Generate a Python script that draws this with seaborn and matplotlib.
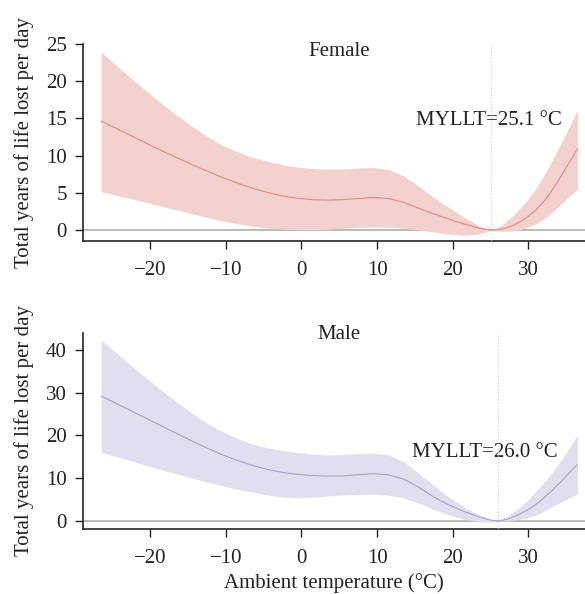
import numpy as np
import pandas as pd
import matplotlib
matplotlib.use("Agg")
import matplotlib.pyplot as plt
import seaborn as sns

# ---------------- data ----------------
fem_temp = [-26.5, -24.5, -22.5, -20.5, -18.5, -16.5, -14.5, -12.5, -10.5, -8.5, -6.5, -4.5,
            -2.5, -0.5, 1.5, 3.5, 5.5, 7.5, 9.5, 11.5, 13.5, 15.5, 17.5, 19.5, 21.5, 23.5,
            25.1, 26.5, 28.0, 29.5, 31.0, 32.5, 34.0, 35.5, 36.5]
fem_est = [14.65, 13.65, 12.65, 11.65, 10.68, 9.74, 8.82, 7.94, 7.1, 6.33, 5.65, 5.07,
           4.6, 4.28, 4.1, 4.05, 4.12, 4.26, 4.4, 4.27, 3.75, 2.95, 2.2, 1.5, 0.85, 0.3,
           0.0, 0.15, 0.65, 1.5, 2.7, 4.4, 6.7, 9.2, 10.9]
fem_lo = [5.17, 4.7, 4.22, 3.72, 3.22, 2.72, 2.22, 1.74, 1.28, 0.88, 0.56, 0.32,
          0.16, 0.08, 0.08, 0.15, 0.27, 0.4, 0.45, 0.42, 0.28, 0.05, -0.22, -0.5, -0.66, -0.5,
          0.0, -0.15, -0.08, 0.25, 0.85, 1.8, 3.2, 4.6, 5.5]
fem_hi = [23.9, 22.1, 20.35, 18.65, 17.0, 15.45, 13.95, 12.6, 11.4, 10.5, 9.8, 9.25,
          8.8, 8.45, 8.28, 8.2, 8.22, 8.35, 8.4, 8.15, 7.3, 5.9, 4.4, 3.05, 1.75, 0.6,
          0.0, 0.7, 2.0, 3.6, 5.6, 8.1, 11.0, 14.0, 16.1]

male_temp = [-26.5, -24.5, -22.5, -20.5, -18.5, -16.5, -14.5, -12.5, -10.5, -8.5, -6.5, -4.5,
             -2.5, -0.5, 1.5, 3.5, 5.5, 7.5, 9.5, 11.5, 13.5, 15.5, 17.5, 19.5, 21.5, 23.5,
             25.0, 26.0, 27.2, 28.5, 30.0, 31.5, 33.0, 34.5, 35.5, 36.5]
male_est = [29.2, 27.45, 25.7, 23.95, 22.2, 20.45, 18.7, 17.05, 15.5, 14.15, 13.0, 12.05,
            11.35, 10.9, 10.6, 10.48, 10.55, 10.8, 11.05, 10.8, 9.8, 7.9, 5.6, 3.75, 2.2, 0.95,
            0.2, 0.0, 0.4, 1.3, 2.7, 4.5, 6.9, 9.5, 11.4, 13.2]
male_lo = [16.0, 15.0, 14.0, 12.95, 11.95, 11.0, 10.05, 9.1, 8.25, 7.45, 6.75, 6.1,
           5.6, 5.4, 5.55, 5.85, 6.05, 6.2, 6.25, 6.05, 5.4, 4.2, 2.7, 1.4, 0.4, -0.15,
           -0.3, 0.0, 0.05, 0.3, 0.85, 1.7, 3.2, 4.6, 5.5, 6.3]
male_hi = [42.3, 39.3, 36.3, 33.4, 30.5, 27.8, 25.2, 22.9, 20.9, 19.3, 18.0, 17.1,
           16.5, 16.0, 15.6, 15.4, 15.5, 15.75, 15.85, 15.45, 13.9, 11.2, 8.3, 5.6, 3.3, 1.4,
           0.35, 0.0, 1.2, 2.7, 5.0, 7.9, 11.0, 14.6, 17.3, 20.1]

mmt_female = 25.1
mmt_male = 26.0
x_ticks = [-20, -10, 0, 10, 20, 30]
fem_yticks = [0, 5, 10, 15, 20, 25]
male_yticks = [0, 10, 20, 30, 40]

# ---------------- style ----------------
sns.set_style("ticks")
plt.rcParams['font.family'] = ['Liberation Serif', 'DejaVu Serif']
plt.rcParams['axes.unicode_minus'] = True

FS = 15
TXT = '#222222'

fig = plt.figure(figsize=(5.85, 5.94), dpi=100)
fig.patch.set_facecolor('white')

left, right = 83 / 585, 1.0
ax1 = fig.add_axes([left, 1 - 241 / 594, right - left, (241 - 43.7) / 594])
ax2 = fig.add_axes([left, 1 - 529 / 594, right - left, (529 - 332.7) / 594])

panels = [
    (ax1, fem_temp, fem_est, fem_lo, fem_hi, mmt_female, '#f2d1cf', '#e58a80',
     'Female', (-1.43, 25), fem_yticks, 23.9, 14.7, 24.8),
    (ax2, male_temp, male_est, male_lo, male_hi, mmt_male, '#e0dfee', '#a6a3d4',
     'Male', (-1.87, 44.0), male_yticks, 43.5, 16.0, 24.2),
]

for ax, t, est, lo, hi, mmt, fill_c, line_c, title, ylim, yt, ty, my, mx in panels:
    df = pd.DataFrame({'temp': t, 'est': est, 'lo': lo, 'hi': hi})
    ax.axhline(0, color='#a8a8a8', lw=1.1, zorder=1)
    ax.fill_between(df['temp'], df['lo'], df['hi'], color=fill_c, lw=0, zorder=2)
    sns.lineplot(data=df, x='temp', y='est', ax=ax, color=line_c, lw=0.8, zorder=3)
    ax.axvline(mmt, color='#d0d0d0', ls=':', lw=0.9, zorder=4)
    ax.set_xlim(-28.9, 37.5)
    ax.set_ylim(*ylim)
    ax.set_xticks(x_ticks)
    ax.set_yticks(yt)
    ax.set_xlabel('')
    ax.set_ylabel('')
    sns.despine(ax=ax)
    for s in ['left', 'bottom']:
        ax.spines[s].set_color('#222222')
        ax.spines[s].set_linewidth(1.2)
    ax.tick_params(axis='both', labelsize=FS, colors=TXT, length=5.7, width=1.0, pad=6)
    ax.tick_params(axis='x', pad=9)
    ax.text(5.0, ty, title, ha='center', va='center', fontsize=FS, color=TXT)
    ax.text(mx, my, f'MYLLT={mmt:.1f} °C', ha='center', va='center', fontsize=FS, color=TXT)
    ax.set_facecolor('white')

fig.text(24 / 585, 1 - 142 / 594, 'Total years of life lost per day', rotation=90,
         ha='center', va='center', fontsize=FS, color=TXT)
fig.text(24 / 585, 1 - 431 / 594, 'Total years of life lost per day', rotation=90,
         ha='center', va='center', fontsize=FS, color=TXT)
fig.text(334 / 585, 1 - 583 / 594, 'Ambient temperature (°C)', ha='center', va='center',
         fontsize=FS, color=TXT)

fig.savefig('out.png', dpi=100, facecolor='white')
